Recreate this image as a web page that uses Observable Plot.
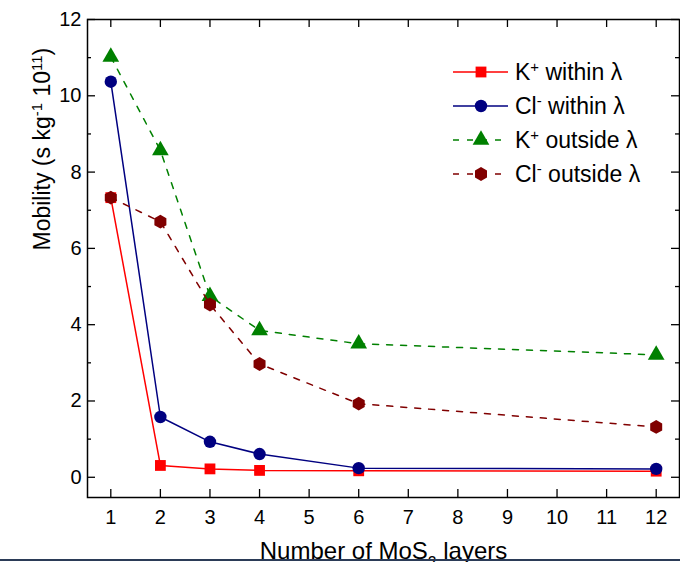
<!DOCTYPE html>
<html>
<head>
<meta charset="utf-8">
<script src="https://cdn.jsdelivr.net/npm/d3@7"></script>
<script src="https://cdn.jsdelivr.net/npm/@observablehq/plot@0.6"></script>
<style>
  html, body { margin: 0; padding: 0; background: #fff; }
  #chart { position: relative; width: 680px; height: 562px; overflow: hidden; background: #fff; }
  #chart svg { display: block; }
  #rule { position: absolute; left: 0; top: 559px; width: 680px; height: 2px; background: #2b3b57; }
</style>
</head>
<body>
<div id="chart"><div id="rule"></div></div>
<script>
// Ion mobility vs. number of MoS2 layers
const layers = [1, 2, 3, 4, 6, 12];
const kWithin = [7.33, 0.31, 0.22, 0.18, 0.17, 0.16];
const clWithin = [10.37, 1.58, 0.93, 0.61, 0.24, 0.22];
const kOutside = [11.02, 8.57, 4.75, 3.85, 3.50, 3.21];
const clOutside = [7.33, 6.70, 4.53, 2.97, 1.93, 1.32];

const seriesNames = ["K^{+} within λ", "Cl^{-} within λ", "K^{+} outside λ", "Cl^{-} outside λ"];
const seriesValues = [kWithin, clWithin, kOutside, clOutside];

const xTicks = [1, 2, 3, 4, 5, 6, 7, 8, 9, 10, 11, 12];
const yMajor = [0, 2, 4, 6, 8, 10, 12];
const yMinor = [1, 3, 5, 7, 9, 11];

const xTitle = "Number of MoS_{2} layers";
const yTitle = "Mobility (s kg^{-1} 10^{11})";

// drawing style per series
const look = {
  "K^{+} within λ":   {color: "#ff0000", symbol: "square",   dash: null,  r: 6.1},
  "Cl^{-} within λ":  {color: "#000080", symbol: "circle",   dash: null,  r: 6.2},
  "K^{+} outside λ":  {color: "#008000", symbol: "triangle", dash: "6,8", r: 6.2},
  "Cl^{-} outside λ": {color: "#800000", symbol: "hexagon",  dash: "6,8", r: 6.0}
};

const rows = seriesNames.flatMap((name, s) =>
  layers.map((x, i) => ({series: name, x, y: seriesValues[s][i]})));

const W = 680, H = 562, mL = 87, mR = 1, mT = 19, mB = 65;
const fw = W - mL - mR, fh = H - mT - mB;
const font = "'Liberation Sans', Arial, sans-serif";

const seriesMarks = seriesNames.flatMap(name => {
  const d = rows.filter(r => r.series === name);
  const st = look[name];
  return [
    Plot.line(d, {x: "x", y: "y", stroke: st.color, strokeWidth: 1.5, strokeDasharray: st.dash}),
    Plot.dot(d, {x: "x", y: "y", symbol: st.symbol, r: st.r, fill: st.color, stroke: "none"})
  ];
});

const chart = Plot.plot({
  width: W, height: H,
  marginLeft: mL, marginRight: mR, marginTop: mT, marginBottom: mB,
  style: {fontFamily: font, color: "#000", background: "#fff", overflow: "visible"},
  x: {domain: [0.53, 12.47], label: null},
  y: {domain: [-0.53, 12], label: null},
  marks: [
    // inward ticks on all four sides
    Plot.tickX(xTicks, {x: d => d, insetTop: fh - 8, stroke: "#000", strokeWidth: 1.3}),
    Plot.tickX(xTicks, {x: d => d, insetBottom: fh - 8, stroke: "#000", strokeWidth: 1.3}),
    Plot.tickY(yMajor, {y: d => d, insetRight: fw - 8, stroke: "#000", strokeWidth: 1.3}),
    Plot.tickY(yMajor, {y: d => d, insetLeft: fw - 8, stroke: "#000", strokeWidth: 1.3}),
    Plot.tickY(yMinor, {y: d => d, insetRight: fw - 4, stroke: "#000", strokeWidth: 1.3}),
    Plot.tickY(yMinor, {y: d => d, insetLeft: fw - 4, stroke: "#000", strokeWidth: 1.3}),
    Plot.axisX(xTicks, {tickSize: 0, tickPadding: 12, fontSize: 20, tickFormat: d => String(d), label: null}),
    Plot.axisY(yMajor, {tickSize: 0, tickPadding: 6, fontSize: 20, tickFormat: d => String(d), label: null}),
    ...seriesMarks,
    Plot.frame({stroke: "#000", strokeWidth: 1.5}),
    Plot.text([yTitle], {text: d => d, frameAnchor: "left", rotate: -90, dx: -45, dy: -8, fontSize: 23, fill: "#000"}),
    Plot.text([xTitle], {text: d => d, frameAnchor: "bottom", lineAnchor: "top", dy: 44, fontSize: 24, fill: "#000"})
  ]
});

document.getElementById("chart").prepend(chart);

// turn ^{..} and _{..} markup into super/subscript tspans
function richText(el) {
  const s = el.textContent;
  if (!/[\^_]\{/.test(s)) return;
  while (el.firstChild) el.removeChild(el.firstChild);
  const re = /([\^_])\{([^}]*)\}/g;
  let last = 0, m;
  const add = (txt, kind) => {
    if (!txt) return;
    const t = document.createElementNS("http://www.w3.org/2000/svg", "tspan");
    t.textContent = txt;
    if (kind) {
      t.setAttribute("font-size", "65%");
      t.setAttribute("baseline-shift", kind === "^" ? "super" : "sub");
    }
    el.appendChild(t);
  };
  while ((m = re.exec(s))) {
    add(s.slice(last, m.index), null);
    add(m[2], m[1]);
    last = re.lastIndex;
  }
  add(s.slice(last), null);
}

const svg = d3.select(chart);
svg.selectAll("text").each(function () { richText(this); });

// legend
const hexagon = {
  draw(context, size) {
    const rx = Math.sqrt(size / Math.PI), ry = rx * 2 / Math.sqrt(3), hy = ry / 2;
    context.moveTo(0, ry);
    context.lineTo(rx, hy);
    context.lineTo(rx, -hy);
    context.lineTo(0, -ry);
    context.lineTo(-rx, -hy);
    context.lineTo(-rx, hy);
    context.closePath();
  }
};
const symbolTypes = {square: d3.symbolSquare, circle: d3.symbolCircle, triangle: d3.symbolTriangle, hexagon};

const legend = svg.append("g")
  .attr("font-family", font)
  .attr("font-size", 23)
  .attr("text-anchor", "start");
seriesNames.forEach((name, i) => {
  const st = look[name];
  const cy = 72 + i * 34;
  const g = legend.append("g").attr("transform", `translate(0,${cy})`);
  g.append("line")
    .attr("x1", 453).attr("x2", 508).attr("y1", 0).attr("y2", 0)
    .attr("stroke", st.color).attr("stroke-width", 1.5)
    .attr("stroke-dasharray", st.dash);
  g.append("path")
    .attr("transform", "translate(481,0)")
    .attr("d", d3.symbol(symbolTypes[st.symbol], Math.PI * st.r * st.r)())
    .attr("fill", st.color);
  const t = g.append("text")
    .attr("x", 515).attr("dy", "0.35em")
    .attr("text-anchor", "start")
    .attr("fill", "#000")
    .text(name);
  richText(t.node());
});
</script>
</body>
</html>
